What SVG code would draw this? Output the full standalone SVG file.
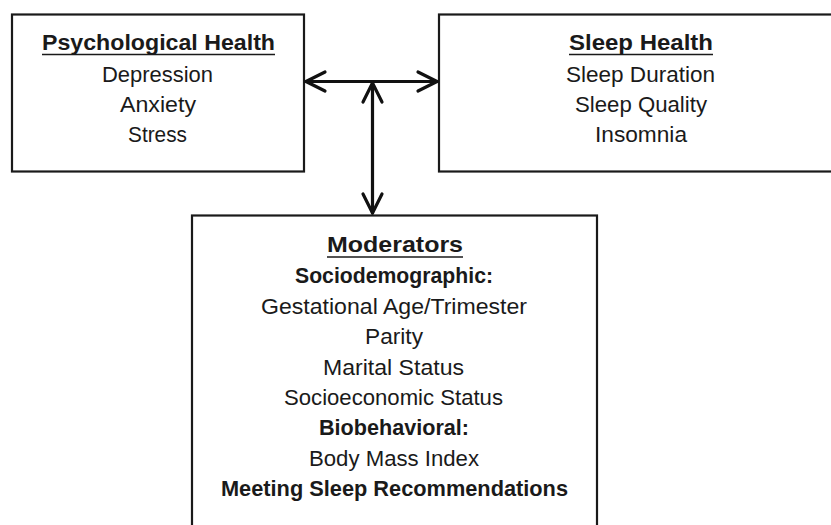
<svg xmlns="http://www.w3.org/2000/svg" width="831" height="525" viewBox="0 0 831 525">
<style>
.box{fill:#fff;stroke:#1a1a1a;stroke-width:2.2}
.t{font-family:"Liberation Sans",Arial,sans-serif;font-size:21.5px;fill:#1a1a1a;text-anchor:middle}
.b{font-weight:bold;font-size:22px}
.c{fill:none;stroke:#111;stroke-width:3.2;stroke-linecap:round;stroke-linejoin:round}
</style>
<rect width="831" height="525" fill="#fff"/>
<g id="psych">
<rect class="box" x="12" y="14.5" width="292" height="157"/>
<text class="t b" x="158.5" y="50" textLength="233" lengthAdjust="spacingAndGlyphs">Psychological Health</text>
<line x1="42" y1="54.5" x2="275" y2="54.5" stroke="#1a1a1a" stroke-width="1.6"/>
<text class="t" x="157.5" y="81.5" textLength="111" lengthAdjust="spacingAndGlyphs">Depression</text>
<text class="t" x="158" y="111.5" textLength="76" lengthAdjust="spacingAndGlyphs">Anxiety</text>
<text class="t" x="157.5" y="141.5" textLength="59" lengthAdjust="spacingAndGlyphs">Stress</text>
</g>
<g id="sleep">
<rect class="box" x="439" y="14.5" width="404" height="157"/>
<text class="t b" x="641" y="50" textLength="144" lengthAdjust="spacingAndGlyphs">Sleep Health</text>
<line x1="569" y1="54.5" x2="713" y2="54.5" stroke="#1a1a1a" stroke-width="1.6"/>
<text class="t" x="640.5" y="81.5" textLength="149" lengthAdjust="spacingAndGlyphs">Sleep Duration</text>
<text class="t" x="641" y="111.5" textLength="132" lengthAdjust="spacingAndGlyphs">Sleep Quality</text>
<text class="t" x="641" y="141.5" textLength="92" lengthAdjust="spacingAndGlyphs">Insomnia</text>
</g>
<g id="moderators">
<rect class="box" x="192" y="215.5" width="405" height="330"/>
<text class="t b" x="395" y="252" textLength="136" lengthAdjust="spacingAndGlyphs">Moderators</text>
<line x1="327" y1="257" x2="463" y2="257" stroke="#1a1a1a" stroke-width="1.6"/>
<text class="t b" x="394" y="283" textLength="198" lengthAdjust="spacingAndGlyphs">Sociodemographic:</text>
<text class="t" x="394" y="314" textLength="266" lengthAdjust="spacingAndGlyphs">Gestational Age/Trimester</text>
<text class="t" x="394" y="344" textLength="58" lengthAdjust="spacingAndGlyphs">Parity</text>
<text class="t" x="393.5" y="375" textLength="141" lengthAdjust="spacingAndGlyphs">Marital Status</text>
<text class="t" x="393.5" y="405" textLength="219" lengthAdjust="spacingAndGlyphs">Socioeconomic Status</text>
<text class="t b" x="394" y="435" textLength="150" lengthAdjust="spacingAndGlyphs">Biobehavioral:</text>
<text class="t" x="394" y="466" textLength="170" lengthAdjust="spacingAndGlyphs">Body Mass Index</text>
<text class="t b" x="394.5" y="496" textLength="347" lengthAdjust="spacingAndGlyphs">Meeting Sleep Recommendations</text>
</g>
<g id="connectors">
<line class="c" x1="306" y1="81.5" x2="437" y2="81.5"/>
<path class="c" d="M325,72 L306,81.5 L325,91"/>
<path class="c" d="M418,72 L437,81.5 L418,91"/>
<line class="c" x1="372.5" y1="83" x2="372.5" y2="213"/>
<path class="c" d="M363,102 L372.5,83 L382,102"/>
<path class="c" d="M363,194 L372.5,213 L382,194"/>
</g>
</svg>
